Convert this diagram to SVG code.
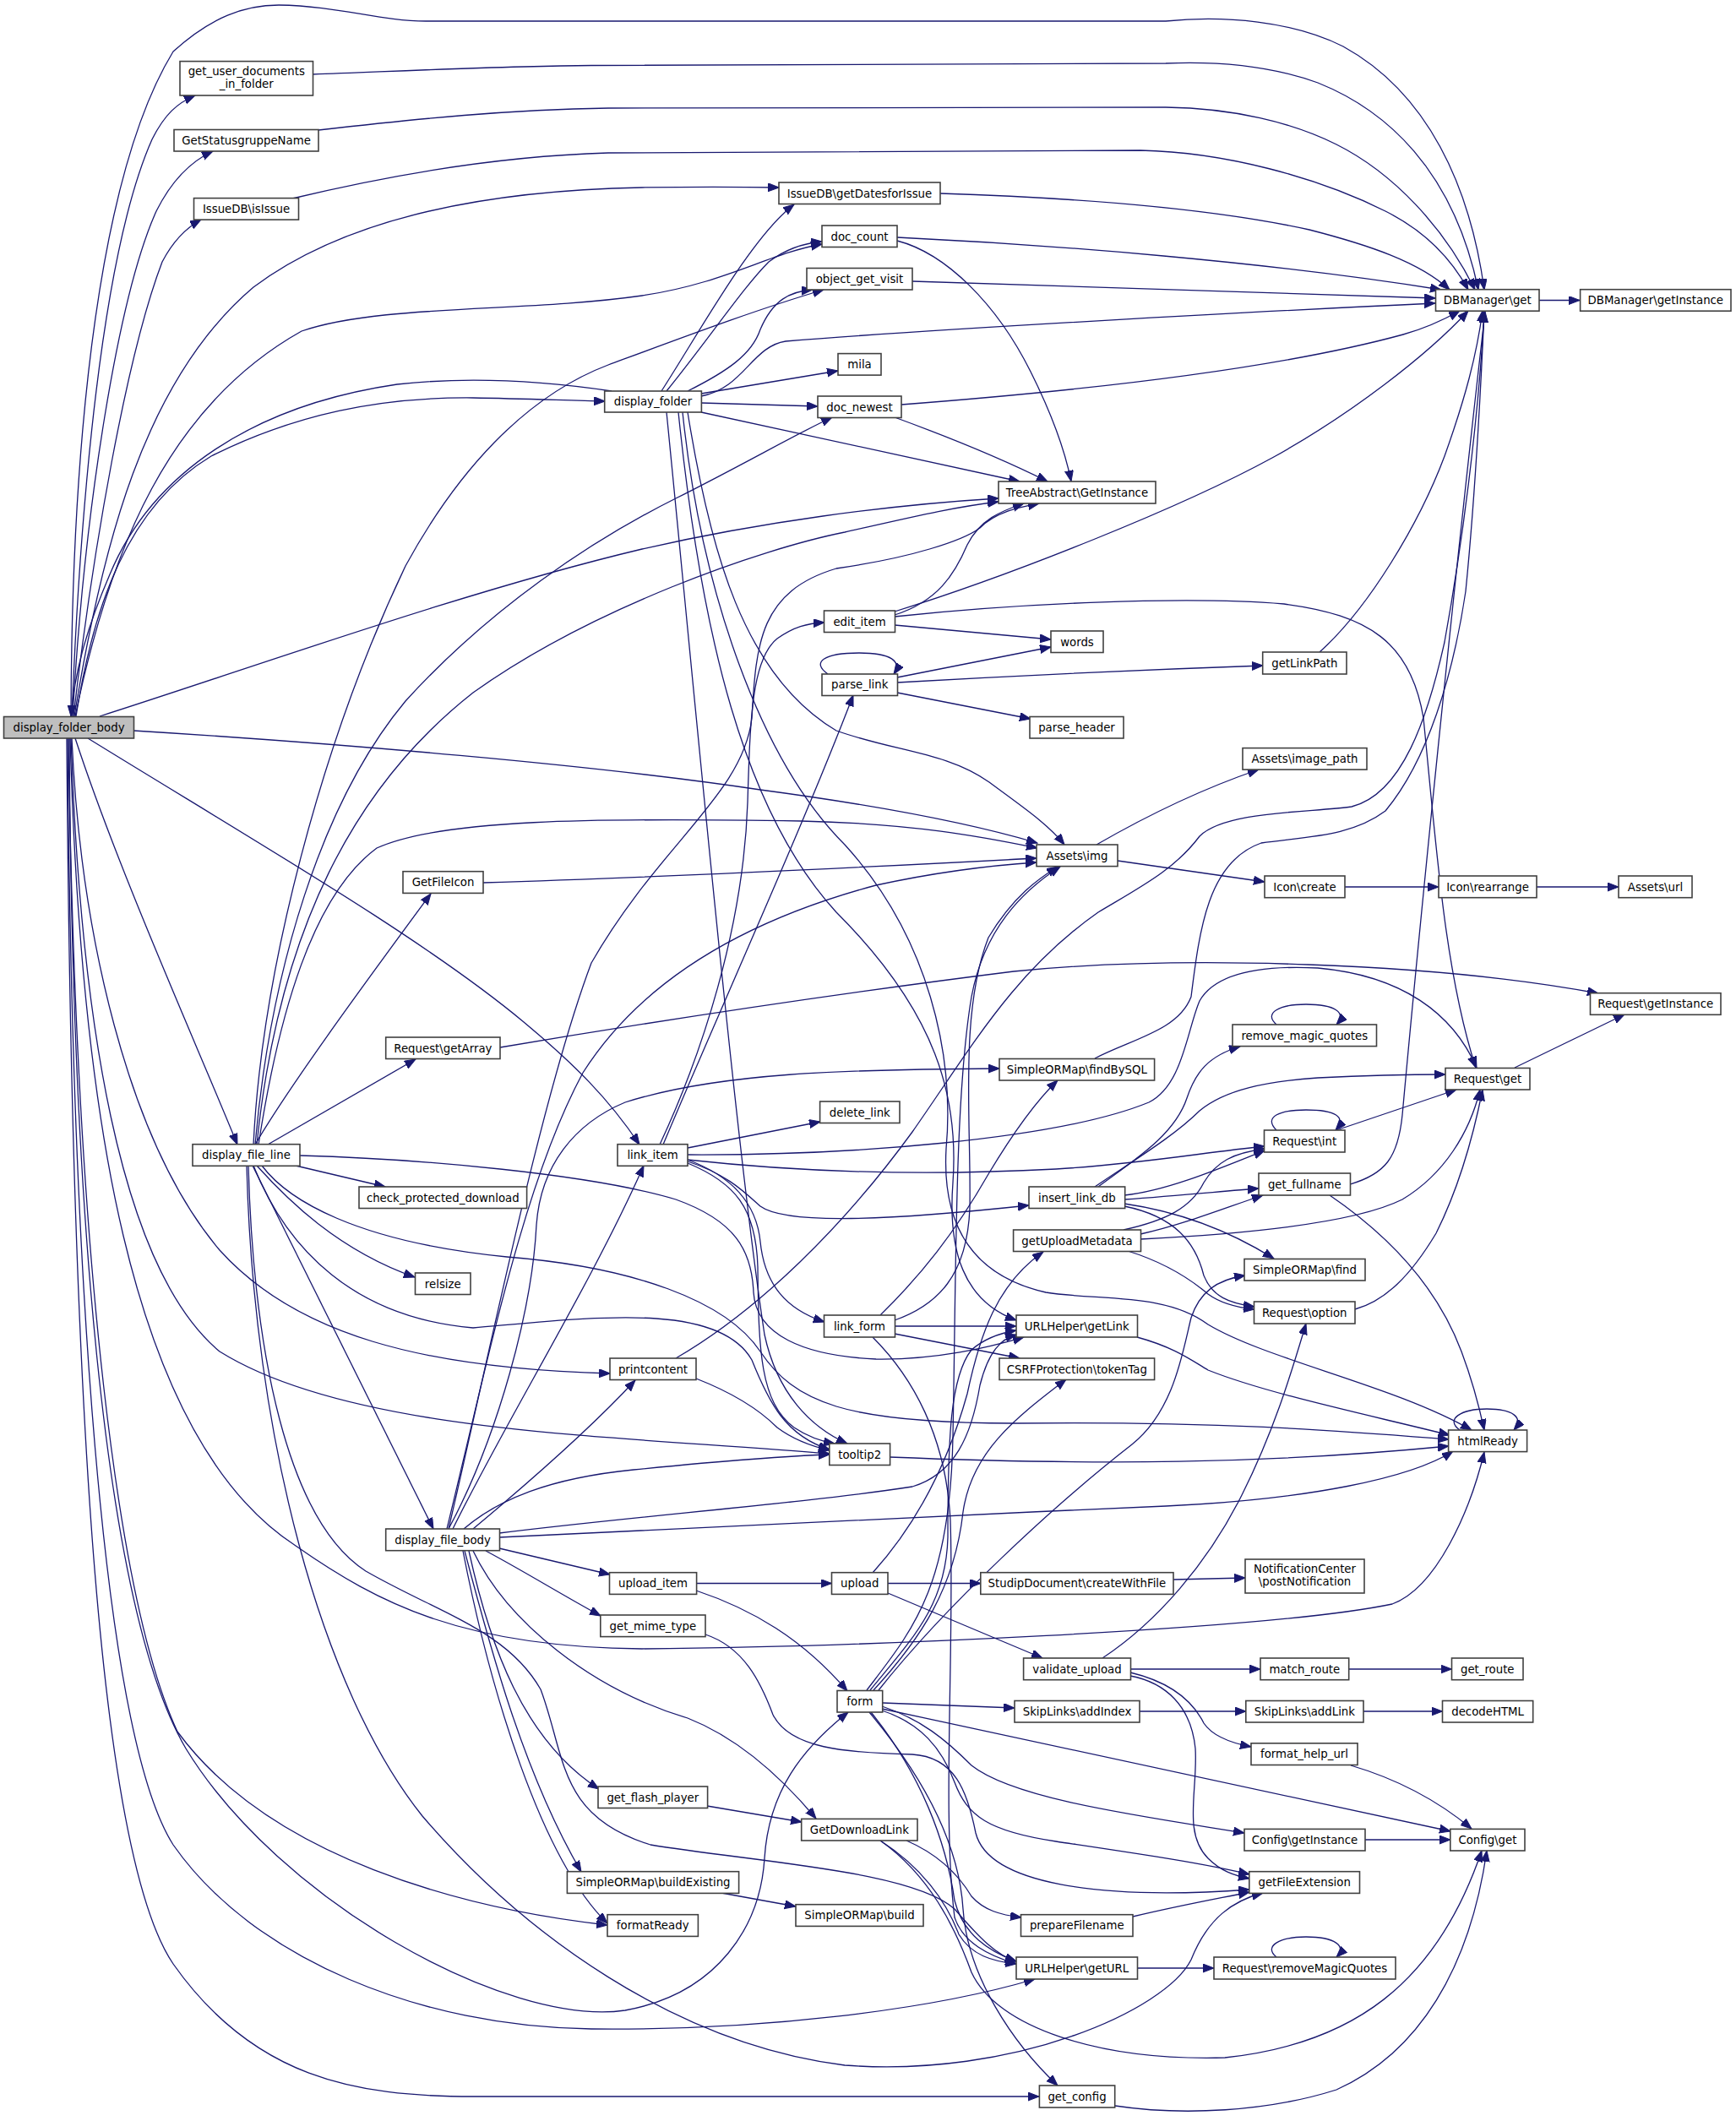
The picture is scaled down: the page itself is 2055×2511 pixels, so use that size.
<svg xmlns="http://www.w3.org/2000/svg" width="2055" height="2511" viewBox="0 0 2055 2511">
<defs>
<marker id="a" markerUnits="userSpaceOnUse" markerWidth="14" markerHeight="11" refX="13" refY="5" orient="auto">
<path d="M0,0 L13,5 L0,10 z" fill="#191970" stroke="#191970" stroke-width="1"/>
</marker>
<style>
.node rect{fill:#ffffff;stroke:#404040;stroke-width:1.6}
.node.root rect{fill:#bfbfbf}
.node text{font-family:"DejaVu Sans","Liberation Sans",sans-serif;font-size:13.3px;fill:#000000;text-anchor:middle}
#edges path{fill:none;stroke:#191970;stroke-width:1.3;marker-end:url(#a)}
</style>
</defs>
<rect x="0" y="0" width="2055" height="2511" fill="#ffffff"/>
<g id="edges">
<path d="M84,848 C85,500 120,200 205,61 C250,20 290,6 330,6 C400,7 450,25 504,25 L1380,25 C1450,18 1530,25 1590,55 C1690,110 1740,220 1757,343"/>
<path d="M85,848 C95,600 120,300 180,165 C195,135 210,122 231,113"/>
<path d="M86,848 C100,600 140,350 185,250 C205,210 228,190 252,179"/>
<path d="M87,848 C110,650 150,420 192,310 C205,285 220,270 238,260"/>
<path d="M88,848 C120,650 170,450 300,340 C420,250 600,225 760,222 C820,221 870,221 922,222"/>
<path d="M89,848 C130,650 200,480 357,392 C450,360 620,370 760,350 C860,335 910,300 973,289"/>
<path d="M90,848 C110,720 150,600 250,540 C350,490 450,470 560,471 C620,472 670,474 716,475"/>
<path d="M724,463 C650,452 560,445 470,455 C300,480 180,560 130,680 C100,750 88,800 84,848"/>
<path d="M118,848 C300,790 550,700 760,650 C900,618 1050,598 1182,590"/>
<path d="M158,865 C400,880 700,905 900,935 C1050,955 1150,975 1228,998"/>
<path d="M104,874 C300,995 500,1110 620,1210 C680,1260 720,1300 757,1355"/>
<path d="M89,874 C140,1030 230,1230 281,1355"/>
<path d="M85,874 C95,1100 150,1350 260,1480 C350,1580 500,1620 722,1626"/>
<path d="M84,874 C95,1200 140,1500 260,1600 C420,1700 750,1700 982,1721"/>
<path d="M83,874 C95,1300 150,1700 350,1830 C450,1900 550,1950 760,1952 C1000,1950 1500,1930 1648,1899 C1700,1880 1740,1790 1757,1719"/>
<path d="M82,874 C85,1400 120,1900 220,2070 C330,2250 600,2400 740,2380 C850,2360 900,2280 905,2200 C910,2120 950,2070 1004,2027"/>
<path d="M81,874 C90,1500 140,1900 210,2050 C320,2200 550,2260 719,2279"/>
<path d="M80,874 C85,1500 120,2050 205,2184 C300,2320 500,2400 700,2402 C900,2404 1100,2380 1225,2343"/>
<path d="M79,874 C85,1700 120,2200 205,2325 C300,2460 420,2482 560,2482 L1230,2482"/>
<path d="M783,463 C830,390 890,280 940,242"/>
<path d="M789,463 C840,400 880,340 910,310 C930,295 950,288 973,286"/>
<path d="M814,463 C860,440 890,420 900,390 C915,355 935,345 962,343"/>
<path d="M830,469 C880,460 890,410 930,404 C1100,390 1500,368 1699,359"/>
<path d="M830,466 L992,439"/>
<path d="M830,477 L968,481"/>
<path d="M830,488 L1207,570"/>
<path d="M789,488 C820,800 870,1350 905,1580 C920,1650 960,1690 1003,1709"/>
<path d="M803,488 C830,750 880,960 990,1080 C1110,1200 1135,1300 1128,1400 C1122,1480 1140,1540 1203,1563"/>
<path d="M814,488 C840,650 880,800 990,865 C1060,890 1120,890 1171,926 C1210,955 1240,975 1260,1000"/>
<path d="M808,488 C830,700 900,900 1000,1000 C1100,1110 1130,1250 1120,1360 C1115,1450 1150,1510 1238,1530 C1300,1540 1380,1530 1430,1568 C1500,1610 1650,1640 1742,1693"/>
<path d="M1062,281 C1250,290 1500,310 1706,343"/>
<path d="M1062,285 C1120,300 1180,360 1220,440 C1245,490 1260,530 1268,570"/>
<path d="M1080,333 C1300,340 1500,348 1699,353"/>
<path d="M1067,479 C1250,465 1500,440 1661,396 C1690,388 1710,378 1728,368"/>
<path d="M1059,494 C1130,520 1190,545 1240,570"/>
<path d="M1113,229 C1300,235 1450,250 1550,272 C1620,290 1680,310 1716,343"/>
<path d="M370,88 C500,83 600,78 700,77.5 L1380,75 C1450,72 1510,80 1560,98 C1640,130 1720,200 1750,343"/>
<path d="M377,154 C500,140 600,130 720,128 L1380,127 C1460,128 1530,145 1582,171 C1650,205 1710,270 1746,343"/>
<path d="M346,235 C450,210 580,185 720,181 L1350,178 C1450,180 1560,210 1640,250 C1690,275 1720,310 1738,343"/>
<path d="M1822,355.5 L1870,355.5"/>
<path d="M1059,724 C1200,680 1400,600 1506,542 C1600,490 1690,420 1738,368"/>
<path d="M1059,728 C1110,712 1130,680 1145,645 C1160,615 1185,605 1212,596"/>
<path d="M1059,740 L1244,757"/>
<path d="M1059,730 C1200,715 1400,705 1520,715 C1620,728 1670,760 1685,850 C1700,1000 1710,1150 1747,1264"/>
<path d="M980,798 C960,784 975,773 1017,773 C1055,773 1068,783 1058,798"/>
<path d="M1062,802 L1244,766"/>
<path d="M1062,808 C1200,800 1350,793 1495,788"/>
<path d="M1062,820 L1220,851"/>
<path d="M1562,772 C1620,720 1680,620 1710,540 C1735,470 1748,420 1755,368"/>
<path d="M1298,1000 C1350,970 1420,935 1490,911"/>
<path d="M1323,1019 L1497,1044"/>
<path d="M1592,1050 L1703,1050"/>
<path d="M1819,1050 L1916,1050"/>
<path d="M572,1045 C800,1038 1000,1028 1227,1016"/>
<path d="M302,1355 C340,1290 420,1180 510,1058"/>
<path d="M317,1355 L492,1254"/>
<path d="M300,1355 C310,1150 380,880 480,670 C540,560 620,470 720,432 C820,395 900,365 975,343"/>
<path d="M302,1355 C320,1150 380,950 480,830 C580,720 700,640 800,590 C880,550 940,515 985,494"/>
<path d="M304,1355 C330,1100 420,930 560,820 C700,720 900,650 1000,630 C1080,612 1130,600 1182,594"/>
<path d="M306,1355 C330,1200 370,1060 446,1004 C520,970 700,968 948,972 C1080,975 1160,990 1228,1004"/>
<path d="M350,1380 L456,1405"/>
<path d="M304,1380 C340,1420 400,1480 491,1512"/>
<path d="M299,1380 L513,1810"/>
<path d="M355,1368 C500,1372 700,1390 800,1420 C870,1445 890,1480 892,1530 C895,1580 950,1605 1037,1609 C1110,1610 1170,1595 1212,1583"/>
<path d="M310,1380 C340,1420 420,1470 600,1488 C750,1500 860,1540 900,1600 C940,1660 1000,1685 1200,1685 C1450,1682 1600,1695 1715,1704"/>
<path d="M300,1380 C340,1480 420,1560 560,1572 C700,1560 850,1540 890,1610 C910,1660 930,1700 982,1716"/>
<path d="M292,1380 C300,1700 380,2000 500,2150 C620,2290 800,2420 1000,2445 C1200,2460 1380,2380 1410,2320 C1430,2270 1460,2250 1495,2241"/>
<path d="M294,1380 C300,1600 340,1800 433,1860 C520,1910 600,1930 640,2000 C670,2080 660,2150 770,2184 C900,2205 1080,2215 1130,2260 C1160,2295 1180,2315 1203,2322"/>
<path d="M781,1355 C830,1250 880,1100 885,950 C888,850 890,780 920,756 C940,742 955,738 976,737"/>
<path d="M785,1355 C850,1200 950,980 1010,823"/>
<path d="M814,1359 L971,1328"/>
<path d="M814,1367 C1000,1368 1250,1350 1360,1305 C1400,1285 1405,1220 1420,1185 C1440,1150 1500,1143 1560,1146 C1660,1155 1720,1200 1748,1264"/>
<path d="M814,1373 C950,1388 1100,1392 1250,1384 C1350,1378 1420,1365 1497,1357"/>
<path d="M814,1375 C860,1390 880,1410 900,1428 C930,1450 1050,1445 1218,1427"/>
<path d="M814,1373 C860,1390 895,1420 900,1470 C905,1520 930,1550 976,1565"/>
<path d="M814,1377 C870,1400 895,1430 897,1500 C898,1600 900,1660 940,1690 C955,1700 970,1706 988,1709"/>
<path d="M1059,1570 L1203,1570"/>
<path d="M1059,1579 L1207,1608"/>
<path d="M1042,1557 C1090,1510 1130,1460 1170,1390 C1200,1340 1230,1300 1252,1279"/>
<path d="M1059,1563 C1110,1545 1145,1510 1148,1430 C1150,1330 1135,1200 1170,1110 C1200,1060 1230,1040 1252,1026"/>
<path d="M1033,1583 C1080,1630 1120,1700 1125,1800 C1130,1950 1115,2150 1130,2270 C1140,2300 1170,2315 1203,2325"/>
<path d="M800,1608 C900,1550 1000,1450 1080,1340 C1150,1240 1200,1150 1300,1080 C1350,1050 1390,1030 1420,990 C1450,960 1550,962 1600,955 C1660,940 1690,850 1710,760 C1730,650 1750,500 1757,369"/>
<path d="M824,1632 C870,1650 900,1670 920,1690 C940,1705 960,1712 982,1717"/>
<path d="M560,1810 C620,1760 700,1690 752,1634"/>
<path d="M1053,1725 C1300,1735 1500,1733 1715,1712"/>
<path d="M1346,1583 C1390,1595 1410,1610 1430,1622 C1500,1650 1620,1675 1716,1699"/>
<path d="M1598,1402 C1640,1390 1655,1370 1660,1320 C1680,1100 1720,700 1758,369"/>
<path d="M1574,1415 C1640,1460 1700,1520 1730,1600 C1745,1640 1752,1670 1757,1693"/>
<path d="M1511,1338 C1495,1322 1515,1314 1546,1314 C1580,1314 1595,1322 1581,1338"/>
<path d="M1582,1338 L1724,1290"/>
<path d="M1604,1550 C1640,1540 1670,1510 1700,1460 C1730,1400 1745,1340 1755,1290"/>
<path d="M1793,1264 L1923,1201"/>
<path d="M1511,1213 C1495,1199 1515,1189 1546,1189 C1580,1189 1595,1199 1582,1213"/>
<path d="M1300,1405 C1340,1375 1390,1345 1405,1300 C1415,1270 1430,1250 1468,1239"/>
<path d="M1296,1405 C1340,1375 1390,1345 1420,1315 C1450,1290 1500,1280 1560,1276 C1620,1273 1670,1272 1711,1272"/>
<path d="M1331,1415 C1380,1410 1440,1385 1497,1362"/>
<path d="M1331,1420 C1400,1415 1450,1410 1490,1407"/>
<path d="M1331,1425 C1400,1435 1460,1460 1508,1490"/>
<path d="M1331,1428 C1390,1440 1415,1470 1425,1510 C1435,1535 1455,1543 1485,1547"/>
<path d="M1330,1456 C1380,1445 1410,1430 1425,1400 C1440,1375 1460,1365 1497,1360"/>
<path d="M1350,1461 C1400,1450 1450,1430 1495,1415"/>
<path d="M1350,1467 C1450,1462 1600,1450 1660,1420 C1710,1390 1740,1340 1752,1290"/>
<path d="M1335,1481 C1380,1495 1410,1515 1430,1532 C1445,1543 1465,1548 1485,1550"/>
<path d="M1033,1862 C1080,1810 1120,1740 1145,1650 C1160,1580 1180,1520 1235,1482"/>
<path d="M1051,1874.5 L1161,1874.5"/>
<path d="M1051,1886 L1234,1963"/>
<path d="M824.6,1874.5 L984.5,1874.5"/>
<path d="M824,1883 C890,1905 950,1940 1003,2002"/>
<path d="M1389,1870 L1474,1868"/>
<path d="M1338.5,1976 L1492,1976"/>
<path d="M1305,1963 C1370,1920 1430,1850 1470,1770 C1510,1690 1530,1620 1546,1567"/>
<path d="M1338,1980 C1380,1990 1410,2010 1425,2040 C1435,2055 1455,2063 1481,2068"/>
<path d="M1338,1984 C1380,1992 1410,2020 1415,2070 C1418,2120 1400,2170 1430,2200 C1445,2215 1460,2220 1479,2224"/>
<path d="M1596.7,1976 L1718.5,1976"/>
<path d="M1349,2026 L1475,2026"/>
<path d="M1614,2026 L1707.5,2026"/>
<path d="M1599,2090 C1650,2105 1700,2130 1742,2165"/>
<path d="M1616,2178 L1717,2178"/>
<path d="M1320,2493 C1400,2505 1500,2500 1582,2474 C1680,2430 1740,2330 1760,2191"/>
<path d="M1044.7,2016 L1201,2022"/>
<path d="M1044,2020 C1090,2035 1120,2060 1150,2090 C1200,2130 1350,2150 1473,2170"/>
<path d="M1044,2023 C1300,2080 1550,2130 1717,2168"/>
<path d="M1044,2025 C1090,2040 1115,2070 1130,2110 C1145,2150 1170,2168 1250,2180 C1350,2195 1420,2205 1479,2219"/>
<path d="M1031,2027 C1090,2100 1120,2180 1130,2250 C1140,2290 1170,2310 1203,2322"/>
<path d="M1029,2027 C1090,2100 1135,2180 1140,2260 C1145,2340 1200,2420 1252,2469"/>
<path d="M1030,2001 C1080,1940 1120,1900 1122,1820 C1122,1700 1125,1630 1150,1598 C1165,1585 1185,1578 1203,1575"/>
<path d="M1034,2001 C1090,1940 1130,1880 1140,1790 C1150,1720 1200,1680 1262,1633"/>
<path d="M1040,2001 C1120,1900 1250,1780 1340,1710 C1390,1670 1400,1600 1410,1560 C1420,1530 1440,1515 1474,1510"/>
<path d="M1026,2001 C1080,1930 1125,1880 1128,1700 C1132,1500 1130,1300 1150,1180 C1165,1100 1210,1055 1255,1026"/>
<path d="M837,2138 L949,2157"/>
<path d="M1073,2179 C1110,2195 1135,2220 1150,2245 C1165,2262 1185,2267 1209,2270"/>
<path d="M1042,2179 C1090,2210 1120,2250 1135,2290 C1150,2315 1175,2322 1203,2325"/>
<path d="M1042,2179 C1100,2220 1130,2280 1150,2335 C1180,2400 1300,2440 1450,2436 C1600,2420 1700,2350 1754,2191"/>
<path d="M1341,2269 C1400,2255 1440,2248 1479,2240"/>
<path d="M835,1935 C880,1950 900,1990 915,2030 C935,2070 1000,2075 1080,2077 C1130,2080 1145,2120 1155,2170 C1170,2230 1300,2250 1479,2237"/>
<path d="M854,2241 L942,2257"/>
<path d="M1346.5,2330 L1437,2330"/>
<path d="M1511,2317 C1495,2304 1515,2293 1546,2293 C1580,2293 1595,2304 1582,2317"/>
<path d="M1728,1693 C1710,1680 1730,1668 1760,1668 C1790,1668 1805,1678 1792,1693"/>
<path d="M591,1833 L722,1864"/>
<path d="M575,1836 C620,1860 660,1885 711,1913"/>
<path d="M555,1836 C580,1950 620,2060 709,2118"/>
<path d="M560,1836 C600,1920 700,2000 814,2034 C880,2060 930,2110 966,2153"/>
<path d="M550,1836 C580,1950 620,2100 688,2216"/>
<path d="M548,1836 C580,2000 640,2200 719,2277"/>
<path d="M549,1810 C590,1775 650,1750 750,1740 C850,1730 920,1724 982,1722"/>
<path d="M591,1815 C750,1795 950,1780 1080,1760 C1130,1745 1150,1700 1160,1640 C1170,1600 1185,1585 1203,1580"/>
<path d="M591,1820 C800,1810 1100,1795 1380,1783 C1550,1775 1670,1750 1720,1718"/>
<path d="M536,1810 C600,1680 700,1520 762,1380"/>
<path d="M531,1810 C590,1700 630,1550 635,1450 C640,1380 680,1330 740,1305 C850,1270 1000,1266 1183,1265"/>
<path d="M529,1810 C580,1600 620,1400 690,1270 C760,1160 880,1090 1037,1048 C1120,1030 1180,1024 1227,1021"/>
<path d="M531,1810 C580,1600 640,1300 700,1140 C780,1000 880,940 890,850 C895,760 900,700 990,673 C1080,660 1140,640 1160,625 C1180,605 1210,600 1230,596"/>
<path d="M592,1240 C800,1205 1000,1175 1200,1150 C1400,1130 1700,1140 1892,1176"/>
<path d="M1296,1253 C1340,1230 1395,1220 1410,1180 C1420,1100 1430,1020 1493,998 C1550,990 1600,990 1640,960 C1690,900 1720,800 1735,700 C1745,600 1752,480 1757,369"/>
</g>
<g id="n_display_folder_body" class="node root"><rect x="4.5" y="848.5" width="154" height="25.5"/><text x="81.5" y="866">display_folder_body</text></g>
<g id="n_get_user_documents_in_folder" class="node"><rect x="213" y="72.6" width="157.5" height="40.4"/><text x="291.75" y="89">get_user_documents</text><text x="291.75" y="103.5">_in_folder</text></g>
<g id="n_GetStatusgruppeName" class="node"><rect x="206" y="153.5" width="171" height="25.5"/><text x="291.5" y="171">GetStatusgruppeName</text></g>
<g id="n_IssueDB_isIssue" class="node"><rect x="229.5" y="234.6" width="124" height="25.5"/><text x="291.5" y="252">IssueDB\isIssue</text></g>
<g id="n_IssueDB_getDatesforIssue" class="node"><rect x="922" y="216" width="191" height="25.5"/><text x="1017.5" y="233.5">IssueDB\getDatesforIssue</text></g>
<g id="n_doc_count" class="node"><rect x="973" y="267" width="89" height="25.5"/><text x="1017.5" y="284.5">doc_count</text></g>
<g id="n_object_get_visit" class="node"><rect x="955" y="317.5" width="125" height="25.5"/><text x="1017.5" y="335">object_get_visit</text></g>
<g id="n_DBManager_get" class="node"><rect x="1699.5" y="342.7" width="122.5" height="25.5"/><text x="1760.75" y="360">DBManager\get</text></g>
<g id="n_DBManager_getInstance" class="node"><rect x="1870.6" y="342.7" width="178.4" height="25.5"/><text x="1959.8" y="360">DBManager\getInstance</text></g>
<g id="n_mila" class="node"><rect x="992" y="418.6" width="51" height="25.5"/><text x="1017.5" y="436">mila</text></g>
<g id="n_display_folder" class="node"><rect x="715.7" y="463" width="114.7" height="25"/><text x="773" y="480">display_folder</text></g>
<g id="n_doc_newest" class="node"><rect x="968" y="469" width="99" height="25.5"/><text x="1017.5" y="486.5">doc_newest</text></g>
<g id="n_TreeAbstract_GetInstance" class="node"><rect x="1182" y="570" width="186" height="26"/><text x="1275" y="587.5">TreeAbstract\GetInstance</text></g>
<g id="n_edit_item" class="node"><rect x="975.5" y="723" width="84" height="25.5"/><text x="1017.5" y="740.5">edit_item</text></g>
<g id="n_words" class="node"><rect x="1244" y="747" width="62" height="25.5"/><text x="1275" y="764.5">words</text></g>
<g id="n_getLinkPath" class="node"><rect x="1494.7" y="772" width="99.3" height="26"/><text x="1544.35" y="789.5">getLinkPath</text></g>
<g id="n_parse_link" class="node"><rect x="973" y="798" width="89.5" height="25.5"/><text x="1017.75" y="815">parse_link</text></g>
<g id="n_parse_header" class="node"><rect x="1219" y="848.5" width="111" height="25.5"/><text x="1274.5" y="866">parse_header</text></g>
<g id="n_Assets_image_path" class="node"><rect x="1471" y="885.6" width="147" height="25.5"/><text x="1544.5" y="903">Assets\image_path</text></g>
<g id="n_Assets_img" class="node"><rect x="1227" y="1000" width="96" height="25.6"/><text x="1275" y="1017.5">Assets\img</text></g>
<g id="n_GetFileIcon" class="node"><rect x="477" y="1031.7" width="95" height="25.7"/><text x="524.5" y="1049">GetFileIcon</text></g>
<g id="n_Icon_create" class="node"><rect x="1497" y="1037" width="95" height="25.7"/><text x="1544.5" y="1054.5">Icon\create</text></g>
<g id="n_Icon_rearrange" class="node"><rect x="1703" y="1037" width="116" height="25.7"/><text x="1761" y="1054.5">Icon\rearrange</text></g>
<g id="n_Assets_url" class="node"><rect x="1916" y="1037" width="87" height="25.7"/><text x="1959.5" y="1054.5">Assets\url</text></g>
<g id="n_Request_getInstance" class="node"><rect x="1882.5" y="1175.7" width="154.5" height="25.6"/><text x="1959.75" y="1193">Request\getInstance</text></g>
<g id="n_remove_magic_quotes" class="node"><rect x="1459" y="1213" width="170.5" height="25.6"/><text x="1544.25" y="1230.5">remove_magic_quotes</text></g>
<g id="n_Request_getArray" class="node"><rect x="456.7" y="1228" width="135.3" height="25.5"/><text x="524.35" y="1245.5">Request\getArray</text></g>
<g id="n_SimpleORMap_findBySQL" class="node"><rect x="1183" y="1253.5" width="183.6" height="25.5"/><text x="1274.8" y="1271">SimpleORMap\findBySQL</text></g>
<g id="n_Request_get" class="node"><rect x="1711" y="1264.5" width="100" height="25.5"/><text x="1761" y="1282">Request\get</text></g>
<g id="n_delete_link" class="node"><rect x="970.6" y="1304" width="94.4" height="25.5"/><text x="1017.8" y="1321.5">delete_link</text></g>
<g id="n_Request_int" class="node"><rect x="1496.5" y="1338" width="95.5" height="26"/><text x="1544.25" y="1355.5">Request\int</text></g>
<g id="n_display_file_line" class="node"><rect x="228" y="1354.7" width="127" height="25.6"/><text x="291.5" y="1372">display_file_line</text></g>
<g id="n_link_item" class="node"><rect x="731" y="1354.7" width="83" height="25.6"/><text x="772.5" y="1372">link_item</text></g>
<g id="n_get_fullname" class="node"><rect x="1490" y="1389" width="108.5" height="26"/><text x="1544.25" y="1406.5">get_fullname</text></g>
<g id="n_check_protected_download" class="node"><rect x="425" y="1405" width="198.6" height="25.5"/><text x="524.3" y="1422.5">check_protected_download</text></g>
<g id="n_insert_link_db" class="node"><rect x="1218" y="1405" width="113.7" height="25.5"/><text x="1274.85" y="1422.5">insert_link_db</text></g>
<g id="n_getUploadMetadata" class="node"><rect x="1199.6" y="1456" width="150.9" height="25.5"/><text x="1275" y="1473.5">getUploadMetadata</text></g>
<g id="n_SimpleORMap_find" class="node"><rect x="1473" y="1490.5" width="143" height="25.5"/><text x="1544.5" y="1508">SimpleORMap\find</text></g>
<g id="n_relsize" class="node"><rect x="491.5" y="1507" width="65.5" height="25.5"/><text x="524.25" y="1524.5">relsize</text></g>
<g id="n_Request_option" class="node"><rect x="1484.5" y="1541" width="119.5" height="26"/><text x="1544.25" y="1558.5">Request\option</text></g>
<g id="n_link_form" class="node"><rect x="975.5" y="1557" width="84" height="26"/><text x="1017.5" y="1574.5">link_form</text></g>
<g id="n_URLHelper_getLink" class="node"><rect x="1203" y="1557" width="143.5" height="26"/><text x="1274.75" y="1574.5">URLHelper\getLink</text></g>
<g id="n_printcontent" class="node"><rect x="722" y="1608" width="102" height="25.5"/><text x="773" y="1625.5">printcontent</text></g>
<g id="n_CSRFProtection_tokenTag" class="node"><rect x="1183" y="1608" width="183.6" height="25.5"/><text x="1274.8" y="1625.5">CSRFProtection\tokenTag</text></g>
<g id="n_htmlReady" class="node"><rect x="1714.6" y="1693" width="93" height="25.6"/><text x="1761.1" y="1710.5">htmlReady</text></g>
<g id="n_tooltip2" class="node"><rect x="981.8" y="1709" width="71.8" height="25.5"/><text x="1017.7" y="1726.5">tooltip2</text></g>
<g id="n_display_file_body" class="node"><rect x="456.7" y="1810" width="134.8" height="25.7"/><text x="524.1" y="1827.5">display_file_body</text></g>
<g id="n_NotificationCenter_postNotification" class="node"><rect x="1474" y="1846" width="141" height="40"/><text x="1544.5" y="1861.5">NotificationCenter</text><text x="1544.5" y="1877">\postNotification</text></g>
<g id="n_upload_item" class="node"><rect x="721.5" y="1861.7" width="103.1" height="25.7"/><text x="773" y="1879">upload_item</text></g>
<g id="n_upload" class="node"><rect x="984.5" y="1861.7" width="66.5" height="25.7"/><text x="1017.75" y="1879">upload</text></g>
<g id="n_StudipDocument_createWithFile" class="node"><rect x="1160.8" y="1861.7" width="228.2" height="25.7"/><text x="1274.9" y="1879">StudipDocument\createWithFile</text></g>
<g id="n_get_mime_type" class="node"><rect x="710.8" y="1912" width="124.2" height="25.6"/><text x="772.9" y="1929.5">get_mime_type</text></g>
<g id="n_validate_upload" class="node"><rect x="1211.6" y="1963" width="126.9" height="25.7"/><text x="1275" y="1980.5">validate_upload</text></g>
<g id="n_match_route" class="node"><rect x="1492" y="1963" width="104.7" height="25.7"/><text x="1544.35" y="1980.5">match_route</text></g>
<g id="n_get_route" class="node"><rect x="1718.5" y="1963" width="84.5" height="25.7"/><text x="1760.75" y="1980.5">get_route</text></g>
<g id="n_form" class="node"><rect x="991" y="2001.5" width="53.7" height="25.5"/><text x="1017.85" y="2019">form</text></g>
<g id="n_SkipLinks_addIndex" class="node"><rect x="1201" y="2013.5" width="148" height="25.5"/><text x="1275" y="2031">SkipLinks\addIndex</text></g>
<g id="n_SkipLinks_addLink" class="node"><rect x="1474.8" y="2013.5" width="139.2" height="25.5"/><text x="1544.4" y="2031">SkipLinks\addLink</text></g>
<g id="n_decodeHTML" class="node"><rect x="1707.5" y="2013.5" width="107.2" height="25.5"/><text x="1761.1" y="2031">decodeHTML</text></g>
<g id="n_format_help_url" class="node"><rect x="1481" y="2063.8" width="126" height="25.7"/><text x="1544" y="2081">format_help_url</text></g>
<g id="n_get_flash_player" class="node"><rect x="708" y="2115" width="129.6" height="25.5"/><text x="772.8" y="2132.5">get_flash_player</text></g>
<g id="n_GetDownloadLink" class="node"><rect x="948.7" y="2153.4" width="137.3" height="25.6"/><text x="1017.35" y="2171">GetDownloadLink</text></g>
<g id="n_Config_getInstance" class="node"><rect x="1473" y="2165.4" width="143" height="25.6"/><text x="1544.5" y="2183">Config\getInstance</text></g>
<g id="n_Config_get" class="node"><rect x="1716.8" y="2165.4" width="88.2" height="25.6"/><text x="1760.9" y="2183">Config\get</text></g>
<g id="n_SimpleORMap_buildExisting" class="node"><rect x="671.4" y="2215.7" width="203.2" height="25.7"/><text x="773" y="2233">SimpleORMap\buildExisting</text></g>
<g id="n_getFileExtension" class="node"><rect x="1478.8" y="2215.7" width="130.7" height="25.7"/><text x="1544.15" y="2233">getFileExtension</text></g>
<g id="n_SimpleORMap_build" class="node"><rect x="942" y="2254.7" width="151" height="25.7"/><text x="1017.5" y="2272">SimpleORMap\build</text></g>
<g id="n_formatReady" class="node"><rect x="719" y="2266.7" width="107.4" height="25.7"/><text x="772.7" y="2284">formatReady</text></g>
<g id="n_prepareFilename" class="node"><rect x="1208.5" y="2266.7" width="132.5" height="25.7"/><text x="1274.75" y="2284">prepareFilename</text></g>
<g id="n_URLHelper_getURL" class="node"><rect x="1203" y="2317" width="143.5" height="26"/><text x="1274.75" y="2334.5">URLHelper\getURL</text></g>
<g id="n_Request_removeMagicQuotes" class="node"><rect x="1437" y="2317" width="215" height="26"/><text x="1544.5" y="2334.5">Request\removeMagicQuotes</text></g>
<g id="n_get_config" class="node"><rect x="1230.4" y="2469" width="89.3" height="26"/><text x="1275" y="2486.5">get_config</text></g>
</svg>
